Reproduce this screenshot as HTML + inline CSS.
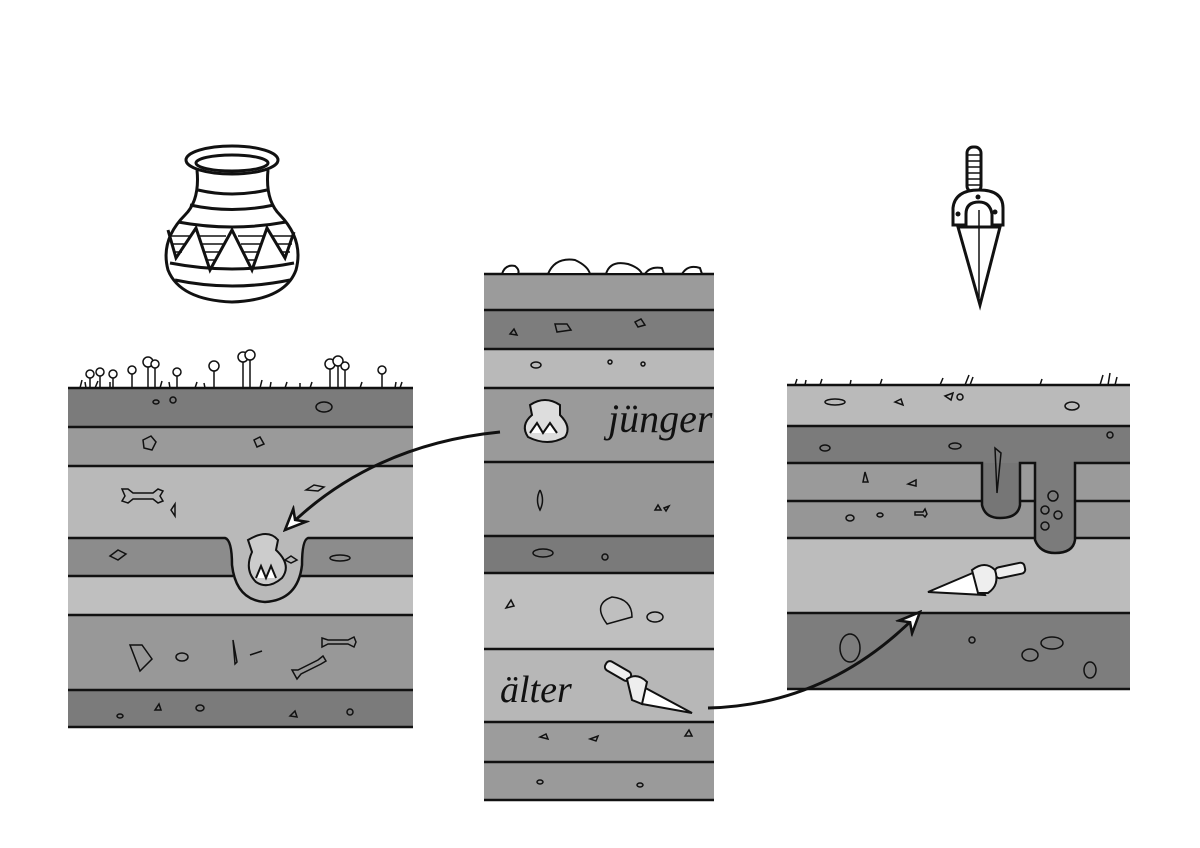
<!DOCTYPE html>
<html><head><meta charset="utf-8"><style>
html,body{margin:0;padding:0;background:#fff;}
svg{display:block}
text{font-family:"Liberation Serif",serif;font-style:italic}
</style></head><body>
<svg width="1200" height="848" viewBox="0 0 1200 848" xmlns="http://www.w3.org/2000/svg">
<defs>
<marker id="ah" viewBox="0 0 20 20" refX="18" refY="10" markerWidth="26" markerHeight="26" orient="auto" markerUnits="userSpaceOnUse">
<path d="M2,3 L18,10 L2,17 L7,10 Z" fill="#fff" stroke="#111" stroke-width="2"/>
</marker>
</defs>
<rect width="1200" height="848" fill="#fff"/>

<!-- POT -->
<g fill="none" stroke="#111" stroke-width="3">
<path d="M197,170 Q200,200 185,215 Q160,240 168,270 Q180,300 232,302 Q285,300 296,270 Q304,240 280,215 Q265,200 268,170" fill="#fff"/>
<ellipse cx="232" cy="160" rx="46" ry="14" fill="#fff"/>
<ellipse cx="232" cy="163" rx="36" ry="8"/>
<path d="M198,190 Q232,198 267,190"/>
<path d="M190,205 Q232,214 274,205"/>
<path d="M178,222 Q232,232 286,222"/>
<path d="M170,263 Q232,275 294,263"/>
<path d="M175,280 Q232,292 290,280"/>
<path d="M168,230 L176,258 L196,228 L210,270 L232,230 L252,270 L267,228 L285,258 L294,232"/>
</g>
<g stroke="#111" stroke-width="1.5">
<line x1="170" y1="236" x2="190" y2="236"/><line x1="171" y1="244" x2="186" y2="244"/><line x1="173" y1="252" x2="182" y2="252"/>
<line x1="198" y1="236" x2="226" y2="236"/><line x1="200" y1="244" x2="223" y2="244"/><line x1="203" y1="252" x2="219" y2="252"/><line x1="206" y1="260" x2="215" y2="260"/>
<line x1="238" y1="236" x2="264" y2="236"/><line x1="241" y1="244" x2="262" y2="244"/><line x1="244" y1="252" x2="259" y2="252"/><line x1="248" y1="260" x2="256" y2="260"/>
<line x1="272" y1="236" x2="292" y2="236"/><line x1="276" y1="244" x2="292" y2="244"/><line x1="280" y1="252" x2="290" y2="252"/>
</g>

<!-- DAGGER -->
<g stroke="#111" stroke-width="3" fill="#fff">
<rect x="967" y="147" width="14" height="45" rx="6"/>
<path d="M958,227 L1000,227 L980,305 Z"/>
<path d="M953,225 L953,208 Q955,190 979,190 Q1003,190 1003,208 L1003,225 L992,225 L992,214 Q990,202 979,202 Q966,202 966,214 L966,225 Z"/>
</g>
<g stroke="#111" stroke-width="1.5">
<line x1="968" y1="155" x2="980" y2="155"/><line x1="968" y1="161" x2="980" y2="161"/><line x1="968" y1="167" x2="980" y2="167"/><line x1="968" y1="173" x2="980" y2="173"/><line x1="968" y1="179" x2="980" y2="179"/><line x1="968" y1="185" x2="980" y2="185"/>
<line x1="979" y1="210" x2="979" y2="298"/>
</g>
<g fill="#111"><circle cx="978" cy="197" r="2.5"/><circle cx="958" cy="214" r="2.5"/><circle cx="995" cy="212" r="2.5"/></g>

<!-- LEFT BLOCK -->
<g>
<rect x="68" y="388" width="345" height="39" fill="#7b7b7b"/>
<rect x="68" y="427" width="345" height="39" fill="#9a9a9a"/>
<rect x="68" y="466" width="345" height="72" fill="#b9b9b9"/>
<rect x="68" y="538" width="345" height="38" fill="#8c8c8c"/>
<rect x="68" y="576" width="345" height="39" fill="#bfbfbf"/>
<rect x="68" y="615" width="345" height="75" fill="#989898"/>
<rect x="68" y="690" width="345" height="37" fill="#7b7b7b"/>
<path d="M225,538 Q232,540 232,565 Q236,600 265,602 Q298,600 302,565 Q302,540 308,538 Z" fill="#b9b9b9"/>
</g>
<g stroke="#111" stroke-width="2.5" fill="none">
<line x1="68" y1="388" x2="413" y2="388"/>
<line x1="68" y1="427" x2="413" y2="427"/>
<line x1="68" y1="466" x2="413" y2="466"/>
<path d="M68,538 L225,538 Q232,540 232,565 Q236,600 265,602 Q298,600 302,565 Q302,540 308,538 L413,538"/>
<path d="M68,576 L233,576 M300,576 L413,576"/>
<line x1="68" y1="615" x2="413" y2="615"/>
<line x1="68" y1="690" x2="413" y2="690"/>
<line x1="68" y1="727" x2="413" y2="727"/>
</g>
<g stroke="#111" stroke-width="1.5" fill="none">
<path d="M80,388 l2,-8 M86,388 l-1,-6 M95,388 l3,-7 M110,388 l0,-6 M160,388 l2,-7 M170,388 l-1,-6 M195,388 l2,-6 M205,388 l-1,-5 M260,388 l2,-8 M270,388 l1,-6 M285,388 l2,-6 M300,388 l0,-5 M310,388 l2,-6 M360,388 l2,-6 M395,388 l1,-6 M400,388 l2,-6"/>
<path d="M90,388 v-12 M100,388 v-14 M113,388 v-12 M132,388 v-17 M148,388 v-24 M155,388 v-22 M177,388 v-14 M214,388 v-20 M243,388 v-28 M250,388 v-30 M330,388 v-22 M338,388 v-25 M345,388 v-20 M382,388 v-16"/>
</g>
<g stroke="#111" stroke-width="1.5" fill="#fff">
<circle cx="90" cy="374" r="4"/><circle cx="100" cy="372" r="4"/><circle cx="113" cy="374" r="4"/><circle cx="132" cy="370" r="4"/><circle cx="148" cy="362" r="5"/><circle cx="155" cy="364" r="4"/><circle cx="177" cy="372" r="4"/><circle cx="214" cy="366" r="5"/><circle cx="243" cy="357" r="5"/><circle cx="250" cy="355" r="5"/><circle cx="330" cy="364" r="5"/><circle cx="338" cy="361" r="5"/><circle cx="345" cy="366" r="4"/><circle cx="382" cy="370" r="4"/>
</g>
<g stroke="#111" stroke-width="1.5" fill="none">
<ellipse cx="156" cy="402" rx="3" ry="2"/><ellipse cx="173" cy="400" rx="3" ry="3"/><ellipse cx="324" cy="407" rx="8" ry="5"/>
<path d="M143,440 l8,-4 l5,6 l-4,8 l-8,-2 z"/><path d="M254,440 l6,-3 l4,7 l-7,3 z"/>
<path d="M122,489 l6,0 l5,4 l20,0 l5,-4 l5,2 l-3,5 l3,5 l-5,2 l-5,-4 l-20,0 l-5,4 l-6,-2 l3,-5 z"/>
<path d="M171,510 l4,-6 l0,12 z"/><path d="M306,490 l8,-5 l10,2 l-6,4 z"/>
<path d="M110,556 l8,-6 l8,4 l-8,6 z"/><ellipse cx="340" cy="558" rx="10" ry="3"/><path d="M285,560 l6,-4 l6,4 l-6,3 z"/>
<path d="M130,645 l12,0 l10,14 l-12,12 z"/><ellipse cx="182" cy="657" rx="6" ry="4"/>
<path d="M233,640 l4,22 l-2,2 z"/><path d="M250,655 l12,-4"/>
<path d="M322,638 l6,2 l20,0 l6,-3 l2,5 l-2,5 l-6,-3 l-20,0 l-6,3 z"/>
<path d="M292,670 l6,0 l20,-10 l5,-4 l3,5 l-5,3 l-20,10 l-4,5 z"/>
<ellipse cx="120" cy="716" rx="3" ry="2"/><path d="M155,710 l4,-6 l2,6 z"/><ellipse cx="200" cy="708" rx="4" ry="3"/><path d="M290,716 l5,-5 l2,6 z"/><ellipse cx="350" cy="712" rx="3" ry="3"/>
</g>
<g stroke="#111" stroke-width="2" fill="#ccc">
<path d="M248,540 Q268,528 278,540 L276,550 Q292,565 282,578 Q268,590 256,582 Q244,570 252,552 Z"/>
<path d="M256,578 l5,-12 l5,12 l5,-12 l5,12" fill="#fff"/>
</g>

<!-- CENTER COLUMN -->
<g>
<rect x="484" y="274" width="230" height="36" fill="#9b9b9b"/>
<rect x="484" y="310" width="230" height="39" fill="#7d7d7d"/>
<rect x="484" y="349" width="230" height="39" fill="#b9b9b9"/>
<rect x="484" y="388" width="230" height="74" fill="#9a9a9a"/>
<rect x="484" y="462" width="230" height="74" fill="#979797"/>
<rect x="484" y="536" width="230" height="37" fill="#7a7a7a"/>
<rect x="484" y="573" width="230" height="76" fill="#bfbfbf"/>
<rect x="484" y="649" width="230" height="73" fill="#b7b7b7"/>
<rect x="484" y="722" width="230" height="40" fill="#9c9c9c"/>
<rect x="484" y="762" width="230" height="38" fill="#9a9a9a"/>
</g>
<g stroke="#111" stroke-width="2.5">
<line x1="484" y1="274" x2="714" y2="274"/><line x1="484" y1="310" x2="714" y2="310"/><line x1="484" y1="349" x2="714" y2="349"/><line x1="484" y1="388" x2="714" y2="388"/><line x1="484" y1="462" x2="714" y2="462"/><line x1="484" y1="536" x2="714" y2="536"/><line x1="484" y1="573" x2="714" y2="573"/><line x1="484" y1="649" x2="714" y2="649"/><line x1="484" y1="722" x2="714" y2="722"/><line x1="484" y1="762" x2="714" y2="762"/><line x1="484" y1="800" x2="714" y2="800"/>
</g>
<g stroke="#111" stroke-width="2" fill="#fff">
<path d="M502,274 Q505,264 515,266 Q520,270 518,274 Z"/><path d="M548,274 Q555,257 575,260 Q588,266 590,274 Z"/><path d="M606,274 Q610,260 628,264 Q640,268 642,274 Z"/><path d="M645,274 Q650,266 662,268 L664,274 Z"/><path d="M682,274 Q688,264 700,268 L702,274 Z"/>
</g>
<g stroke="#111" stroke-width="1.5" fill="none">
<path d="M555,324 l12,0 l4,6 l-14,2 z"/><path d="M510,334 l4,-5 l3,6 z"/><path d="M635,322 l6,-3 l4,6 l-7,2 z"/>
<ellipse cx="536" cy="365" rx="5" ry="3"/><ellipse cx="610" cy="362" rx="2" ry="2"/><ellipse cx="643" cy="364" rx="2" ry="2"/>
<path d="M540,490 q5,10 0,20 q-5,-10 0,-20"/><path d="M655,510 l3,-5 l3,5 z"/><path d="M664,508 l5,-2 l-3,5 z"/>
<ellipse cx="543" cy="553" rx="10" ry="4"/><ellipse cx="605" cy="557" rx="3" ry="3"/>
<path d="M506,608 l5,-8 l3,6 z"/><path d="M607,624 q-15,-20 5,-27 q20,2 20,20 z"/><ellipse cx="655" cy="617" rx="8" ry="5"/>
<path d="M540,737 l6,-3 l2,5 z"/><path d="M590,739 l8,-3 l-2,5 z"/><path d="M685,736 l4,-6 l3,6 z"/>
<ellipse cx="540" cy="782" rx="3" ry="2"/><ellipse cx="640" cy="785" rx="3" ry="2"/>
</g>
<g stroke="#111" stroke-width="2" fill="#ddd">
<path d="M530,405 Q545,395 560,405 L560,415 Q572,427 565,437 Q548,447 528,437 Q520,425 532,415 Z"/>
<path d="M530,433 l7,-10 l6,10 l7,-10 l7,10" fill="#fff"/>
</g>
<text x="608" y="432" font-size="40" fill="#111">jünger</text>
<text x="500" y="702" font-size="38" fill="#111">älter</text>
<g stroke="#111" stroke-width="2" fill="#eee">
<rect x="604" y="666" width="28" height="10" rx="4" transform="rotate(30 618 671)"/>
<path d="M638,684 L692,713 L642,704 Z" fill="#fff"/>
<path d="M627,679 Q637,672 647,682 L642,704 L632,700 Z"/>
</g>

<!-- RIGHT BLOCK -->
<g>
<rect x="787" y="385" width="343" height="41" fill="#bababa"/>
<rect x="787" y="426" width="343" height="37" fill="#7b7b7b"/>
<rect x="787" y="463" width="343" height="38" fill="#9a9a9a"/>
<rect x="787" y="501" width="343" height="37" fill="#969696"/>
<rect x="787" y="538" width="343" height="75" fill="#bcbcbc"/>
<rect x="787" y="613" width="343" height="76" fill="#7d7d7d"/>
<path d="M982,463 L982,505 Q985,518 1000,518 Q1018,518 1020,505 L1020,463 Z" fill="#767676"/>
<path d="M1035,463 L1035,540 Q1040,553 1055,553 Q1073,553 1075,540 L1075,463 Z" fill="#7b7b7b"/>
</g>
<g stroke="#111" stroke-width="2.5" fill="none">
<line x1="787" y1="385" x2="1130" y2="385"/>
<line x1="787" y1="426" x2="1130" y2="426"/>
<path d="M787,463 L982,463 L982,505 Q985,518 1000,518 Q1018,518 1020,505 L1020,463 L1035,463 L1035,540 Q1040,553 1055,553 Q1073,553 1075,540 L1075,463 L1130,463"/>
<path d="M787,501 L982,501 M1020,501 L1035,501 M1075,501 L1130,501"/>
<path d="M787,538 L1035,538 M1075,538 L1130,538"/>
<line x1="787" y1="613" x2="1130" y2="613"/>
<line x1="787" y1="689" x2="1130" y2="689"/>
</g>
<g stroke="#111" stroke-width="1.5" fill="none">
<path d="M795,385 l2,-6 M805,385 l1,-5 M820,385 l2,-6 M850,385 l1,-5 M880,385 l2,-6 M940,385 l3,-7 M965,385 l4,-10 M970,385 l3,-8 M1040,385 l2,-6 M1100,385 l3,-10 M1108,385 l2,-12 M1115,385 l2,-8"/>
<ellipse cx="835" cy="402" rx="10" ry="3"/><path d="M895,402 l6,-3 l2,6 z"/><ellipse cx="960" cy="397" rx="3" ry="3"/><path d="M945,396 l8,-3 l-2,7 z"/><ellipse cx="1072" cy="406" rx="7" ry="4"/>
<ellipse cx="825" cy="448" rx="5" ry="3"/><ellipse cx="955" cy="446" rx="6" ry="3"/><ellipse cx="1110" cy="435" rx="3" ry="3"/>
<path d="M995,448 l2,45 l4,-40 z"/><path d="M863,482 l2,-10 l3,10 z"/><path d="M908,484 l8,-4 l0,6 z"/>
<path d="M915,512 l8,0 l2,-3 l2,5 l-2,3 l-2,-2 l-8,0 z"/>
<ellipse cx="850" cy="518" rx="4" ry="3"/><ellipse cx="880" cy="515" rx="3" ry="2"/>
<circle cx="1053" cy="496" r="5"/><circle cx="1045" cy="510" r="4"/><circle cx="1058" cy="515" r="4"/><circle cx="1045" cy="526" r="4"/>
<ellipse cx="850" cy="648" rx="10" ry="14"/><ellipse cx="1052" cy="643" rx="11" ry="6"/><ellipse cx="1030" cy="655" rx="8" ry="6"/><ellipse cx="1090" cy="670" rx="6" ry="8"/><ellipse cx="972" cy="640" rx="3" ry="3"/>
</g>
<g stroke="#111" stroke-width="2" fill="#eee">
<rect x="995" y="565" width="30" height="11" rx="4" transform="rotate(-12 1010 570)"/>
<path d="M928,592 L975,572 L985,595 Z" fill="#fff"/>
<path d="M972,570 Q985,560 995,570 Q1000,585 988,593 L978,593 Z"/>
</g>

<!-- ARROWS -->
<g stroke="#111" stroke-width="3" fill="none">
<path d="M500,432 Q370,445 285,530" marker-end="url(#ah)"/>
<path d="M708,708 Q830,705 920,612" marker-end="url(#ah)"/>
</g>
</svg>
</body></html>
